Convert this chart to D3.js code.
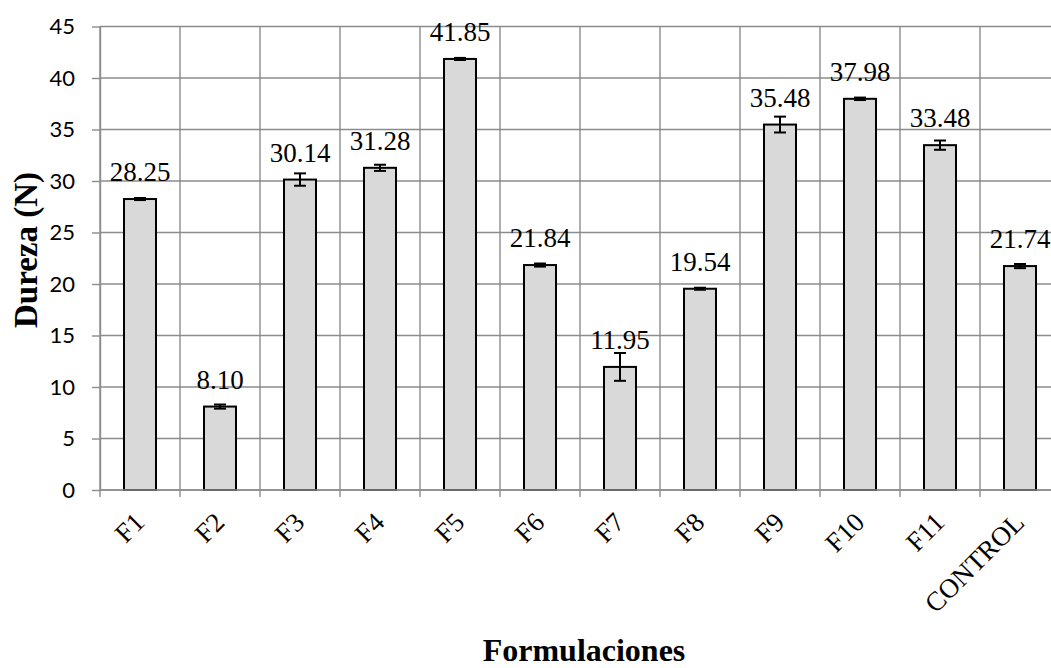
<!DOCTYPE html>
<html>
<head>
<meta charset="utf-8">
<script src="https://cdn.jsdelivr.net/npm/d3@7"></script>
<style>
  html, body { margin: 0; padding: 0; background: #fff; }
  svg { display: block; }
</style>
</head>
<body>
<svg id="chart" width="1051" height="668"></svg>
<script>
const categories = ["F1","F2","F3","F4","F5","F6","F7","F8","F9","F10","F11","CONTROL"];
const values     = [28.25, 8.10, 30.14, 31.28, 41.85, 21.84, 11.95, 19.54, 35.48, 37.98, 33.48, 21.74];
const errors     = [0.10, 0.20, 0.60, 0.30, 0.10, 0.15, 1.35, 0.10, 0.77, 0.12, 0.45, 0.20];
const yTicks     = [0, 5, 10, 15, 20, 25, 30, 35, 40, 45];
const yTitle = "Dureza (N)";
const xTitle = "Formulaciones";

(function () {
const svg = d3.select("#chart");
const mLeft = 100, mRight = 1060, mTop = 26.5, mBottom = 490;

const x = d3.scaleBand().domain(categories).range([mLeft, mRight]).paddingInner(0.6).paddingOuter(0.3);
const y = d3.scaleLinear().domain([0, 45]).range([mBottom, mTop]);
const step = x.step();
const boundaries = categories.map(c => x(c) - step * 0.3).concat([x(categories[categories.length-1]) - step*0.3 + step]);

const gridColor = "#8c8c8c";

// horizontal grid
svg.append("g").selectAll("line").data(yTicks).join("line")
  .attr("x1", mLeft).attr("x2", mRight)
  .attr("y1", d => y(d)).attr("y2", d => y(d))
  .attr("stroke", gridColor).attr("stroke-width", 1.4);

// vertical grid
svg.append("g").selectAll("line").data(boundaries).join("line")
  .attr("x1", d => d).attr("x2", d => d)
  .attr("y1", mTop).attr("y2", mBottom + 7)
  .attr("stroke", gridColor).attr("stroke-width", 1.4);

// y axis
const yAxis = svg.append("g").attr("transform", `translate(${mLeft},0)`)
  .call(d3.axisLeft(y).tickValues(yTicks).tickSize(8).tickSizeOuter(0).tickPadding(17));
yAxis.select(".domain").attr("stroke", gridColor).attr("stroke-width", 1.4);
yAxis.selectAll(".tick line").attr("stroke", gridColor).attr("stroke-width", 1.4);
yAxis.selectAll(".tick text").attr("font-family", "Lato, 'Open Sans', sans-serif")
  .attr("font-size", 22).attr("fill", "#000");

// bars
svg.append("g").selectAll("rect").data(values).join("rect")
  .attr("x", (d, i) => x(categories[i]))
  .attr("y", d => y(d))
  .attr("width", x.bandwidth())
  .attr("height", d => y(0) - y(d))
  .attr("fill", "#d9d9d9").attr("stroke", "#000").attr("stroke-width", 2);

// x axis line over bars
svg.append("line").attr("x1", mLeft).attr("x2", mRight).attr("y1", mBottom).attr("y2", mBottom)
  .attr("stroke", gridColor).attr("stroke-width", 1.6);

// error bars
const eb = svg.append("g").attr("stroke", "#000").attr("stroke-width", 2);
values.forEach((v, i) => {
  const cx = x(categories[i]) + x.bandwidth() / 2;
  const y1 = y(v + errors[i]), y2 = y(v - errors[i]);
  eb.append("line").attr("x1", cx).attr("x2", cx).attr("y1", y1).attr("y2", y2);
  eb.append("line").attr("x1", cx - 6).attr("x2", cx + 6).attr("y1", y1).attr("y2", y1);
  eb.append("line").attr("x1", cx - 6).attr("x2", cx + 6).attr("y1", y2).attr("y2", y2);
});

// data labels
svg.append("g").selectAll("text").data(values).join("text")
  .attr("x", (d, i) => x(categories[i]) + x.bandwidth() / 2)
  .attr("y", d => y(d) - 18)
  .attr("text-anchor", "middle")
  .attr("font-family", "'Liberation Serif', 'Times New Roman', serif")
  .attr("font-size", 27).attr("fill", "#000")
  .text(d => d.toFixed(2));

// x tick labels
svg.append("g").selectAll("text").data(categories).join("text")
  .attr("transform", c => `translate(${x(c) + x.bandwidth()/2 + 6},${524}) rotate(-45)`)
  .attr("text-anchor", "end")
  .attr("font-family", "'Liberation Serif', 'Times New Roman', serif")
  .attr("font-size", 27).attr("fill", "#000")
  .text(c => c);

// axis titles
svg.append("text")
  .attr("x", (mLeft + mRight) / 2 + 4).attr("y", 661)
  .attr("text-anchor", "middle")
  .attr("font-family", "'Liberation Serif', 'Times New Roman', serif")
  .attr("font-weight", "bold").attr("font-size", 32)
  .text(xTitle);

svg.append("text")
  .attr("transform", `translate(37,250) rotate(-90)`)
  .attr("text-anchor", "middle")
  .attr("font-family", "'Liberation Serif', 'Times New Roman', serif")
  .attr("font-weight", "bold").attr("font-size", 33)
  .text(yTitle);
})();
</script>
</body>
</html>
